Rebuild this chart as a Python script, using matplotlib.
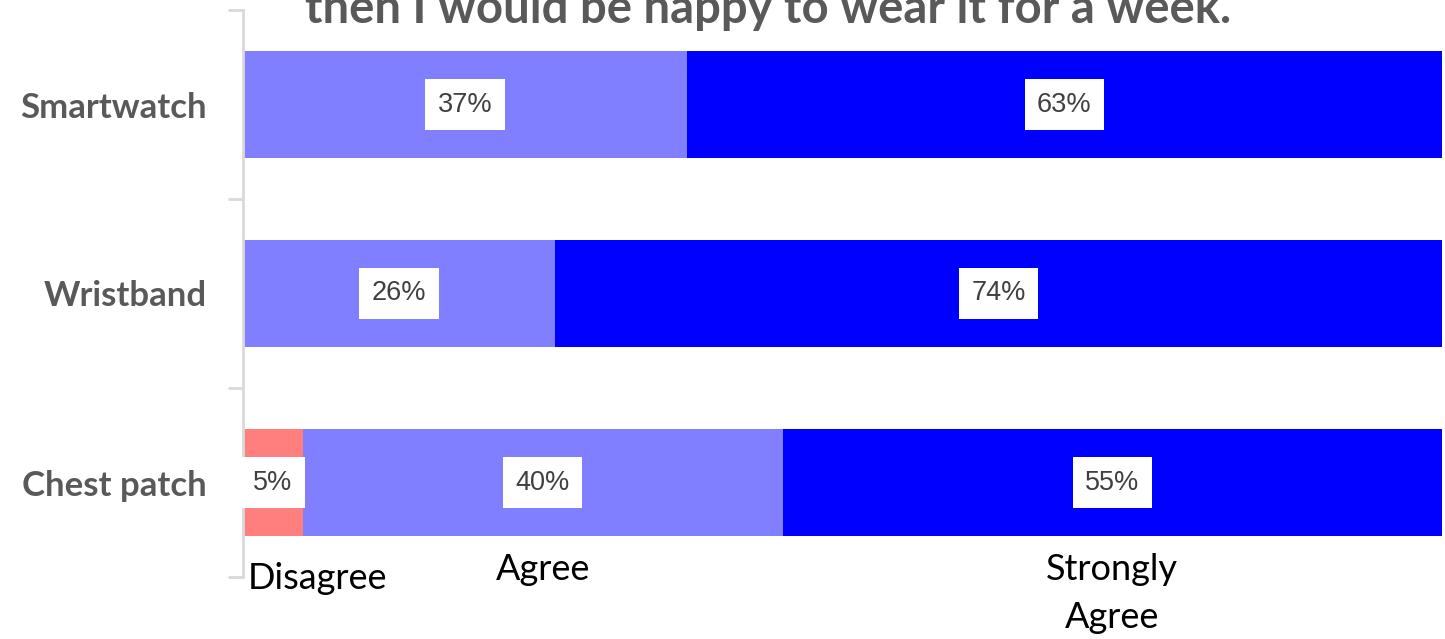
import matplotlib.pyplot as plt
import numpy as np

devices = ["Chest patch", "Wristband", "Smartwatch"]
responses = ["Disagree", "Agree", "Strongly\nAgree"]
disagree = [5, 0, 0]
agree = [40, 26, 37]
strongly_agree = [55, 74, 63]
colors = ["#FF7F7F", "#7F7FFF", "#0000FF"]

fig = plt.figure(figsize=(14.45, 6.39), dpi=100)
ax = fig.add_axes([243 / 1445, 1 - 577 / 639, 1199 / 1445, 567 / 639])

y = np.arange(len(devices))
left = np.zeros(len(devices))
for vals, col in zip([disagree, agree, strongly_agree], colors):
    vals = np.array(vals, dtype=float)
    ax.barh(y, vals, left=left, height=0.57, color=col, linewidth=0)
    for yi, (l, v) in enumerate(zip(left, vals)):
        if v > 0:
            ax.text(l + v / 2, yi, f"{v:.0f}%", ha="center", va="center",
                    fontsize=19.5, color="#404040", family="Liberation Sans",
                    bbox=dict(facecolor="white", edgecolor="none", pad=9))
    left += vals

ax.set_xlim(0, 100)
ax.set_ylim(-0.5, len(devices) - 0.5)

# category labels between the boundary ticks
ax.set_yticks(np.arange(len(devices) + 1) - 0.5)
ax.set_yticklabels([])
ax.set_yticks(y, minor=True)
ax.set_yticklabels(devices, minor=True, fontsize=25, fontweight="bold",
                   color="#595959", family="Lato")
ax.tick_params(axis="y", which="major", length=11, width=2, color="#D9D9D9")
ax.tick_params(axis="y", which="minor", length=0, pad=26)
ax.set_xticks([])

for s in ["top", "right", "bottom"]:
    ax.spines[s].set_visible(False)
ax.spines["left"].set_color("#D9D9D9")
ax.spines["left"].set_linewidth(2)

# response names under the bottom bar
seg_left = 0
for name, v in zip(responses, [disagree[0], agree[0], strongly_agree[0]]):
    if name == "Disagree":
        ax.text(0.4, -0.42, name, ha="left", va="top", fontsize=26,
                family="Lato", color="black")
    else:
        ax.text(seg_left + v / 2, -0.375, name, ha="center", va="top",
                fontsize=26, family="Lato", color="black", linespacing=1.55)
    seg_left += v

fig.text(768 / 1445, 1 - 23 / 639, "then I would be happy to wear it for a week.",
         ha="center", va="baseline", fontsize=34, fontweight="bold",
         color="#595959", family="Lato")

fig.savefig("out.png", dpi=100)
